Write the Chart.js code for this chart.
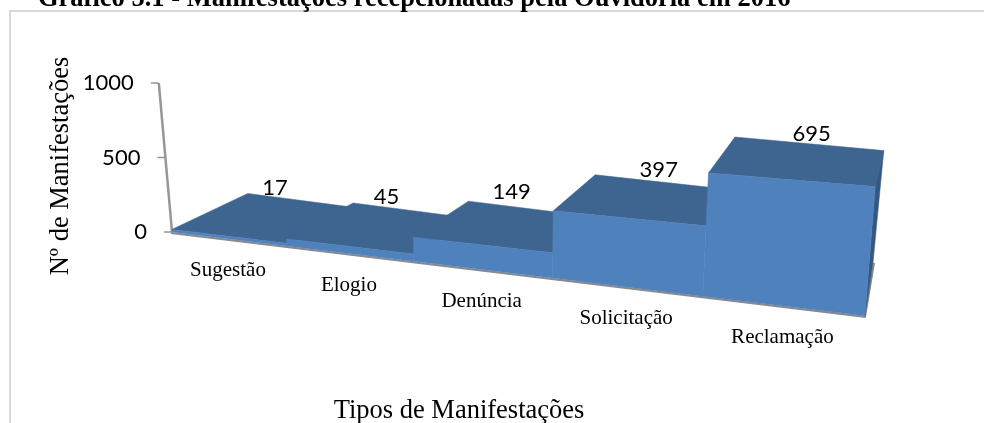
<!DOCTYPE html>
<html><head><meta charset="utf-8">
<style>
html,body{margin:0;padding:0;background:#fff;overflow:hidden}
#frame{position:absolute;left:9px;top:10px;width:975px;height:413px;border-left:2px solid #d9d9d9;border-top:2px solid #d9d9d9;box-sizing:border-box}
#wrap{position:absolute;left:0;top:0;width:984px;height:423px}
</style>
<script src="https://cdn.jsdelivr.net/npm/chart.js@4"></script>
</head><body>
<div id="frame"></div>
<div id="wrap"><canvas id="c" width="984" height="423"></canvas></div>
<script>
const categories = ["Sugestão","Elogio","Denúncia","Solicitação","Reclamação"];
const values = [17,45,149,397,695];
const yTicks = [0,500,1000];
const chartTitle = "Gráfico 5.1 - Manifestações recepcionadas pela Ouvidoria em 2016";
const yTitle = "Nº de Manifestações";
const xTitle = "Tipos de Manifestações";

const SERIF = '"Liberation Serif","Times New Roman",serif';
const SANS = 'Lato,"Open Sans",sans-serif';
const FRONT = "#4f81bd", TOP = "#3e6490", SIDE = "#34587f", FLOOR = "#8a8a8a", AXIS = "#969696";

// Oblique view: turns a flat (scale pixel, height pixel, depth) position into the picture plane.
function projector(chart){
  const a = chart.chartArea, n = categories.length;
  const warp = px => { const u=(px-a.left)/a.width*n; return a.left + 109.1*u + 5.9*u*u; };
  return (px,h,d)=>{
    const bx = warp(px), t = bx-a.left;
    return {
      x: bx + h*(bx-500)*2.7e-4 + d*(76-t*0.08-t*t*2.5e-5),
      y: a.bottom + t*0.121 - h*(1+t*3.58e-4) - 36*d
    };
  };
}
function poly(ctx,pts,fill){
  ctx.beginPath();
  pts.forEach((p,i)=> i?ctx.lineTo(p.x,p.y):ctx.moveTo(p.x,p.y));
  ctx.closePath();
  ctx.fillStyle=fill; ctx.fill();
  ctx.strokeStyle=fill; ctx.lineWidth=0.5; ctx.stroke();
}
const labelNudge = [[-10,-7],[-11,-9],[-9,-12],[3,-7],[7,-5]];

const oblique = {
  id:"oblique",
  beforeDatasetDraw(chart,args){
    const ctx=chart.ctx, P=projector(chart), a=chart.chartArea, y=chart.scales.y, x=chart.scales.x;
    const els=chart.getDatasetMeta(args.index).data;
    ctx.save();
    // floor
    const f0=P(a.left,0,0), f1=P(a.right,0,0), fb={x:f1.x+8,y:f1.y-53};
    ctx.strokeStyle=FLOOR; ctx.lineWidth=2;
    ctx.beginPath(); ctx.moveTo(f0.x-1,f0.y+1); ctx.lineTo(f1.x,f1.y+1); ctx.lineTo(fb.x+1,fb.y); ctx.stroke();
    // value axis
    const ax0=P(a.left,0,0), ax1=P(a.left,a.bottom-y.getPixelForValue(yTicks[yTicks.length-1]),0);
    ctx.strokeStyle=AXIS; ctx.lineWidth=2.5;
    ctx.beginPath(); ctx.moveTo(ax0.x,ax0.y); ctx.lineTo(ax1.x,ax1.y); ctx.stroke();
    ctx.textBaseline="middle"; ctx.textAlign="right"; ctx.font="22px "+SANS;
    y.ticks.forEach(t=>{
      const p=P(a.left,a.bottom-y.getPixelForValue(t.value),0);
      ctx.strokeStyle=AXIS; ctx.lineWidth=1.5;
      ctx.beginPath(); ctx.moveTo(p.x-8,p.y); ctx.lineTo(p.x,p.y); ctx.stroke();
      ctx.fillStyle="#000"; ctx.fillText(String(t.value),p.x-25,p.y);
    });
    // bars, left to right
    els.forEach((el,i)=>{
      const l=el.x-el.width/2, r=el.x+el.width/2, h=el.base-el.y;
      poly(ctx,[P(l,h,0),P(l,h,1),P(r,h,1),P(r,h,0)],TOP);
      if(i===els.length-1) poly(ctx,[P(r,h,0),P(r,h,1),fb,P(r,0,0)],SIDE);
      poly(ctx,[P(l,0,0),P(l,h,0),P(r,h,0),P(r,0,0)],FRONT);
    });
    // value labels and category labels
    ctx.textAlign="center"; ctx.fillStyle="#000";
    els.forEach((el,i)=>{
      const h=el.base-el.y, p=P(el.x,h,0.8);
      ctx.font="22px "+SANS;
      ctx.fillText(String(values[i]),p.x+labelNudge[i][0],p.y-12+labelNudge[i][1]);
      const q=P(el.x,0,0);
      ctx.font="21px "+SERIF;
      ctx.fillText(x.getLabelForValue(i),q.x,q.y+32);
    });
    // titles
    ctx.font="bold 26.5px "+SERIF; ctx.textAlign="left"; ctx.textBaseline="alphabetic";
    ctx.fillText(chartTitle,38,6);
    ctx.font="26.5px "+SERIF; ctx.textAlign="center";
    ctx.fillText(xTitle,459,418);
    ctx.translate(68,166); ctx.rotate(-Math.PI/2);
    ctx.fillText(yTitle,0,0);
    ctx.restore();
    return false;
  }
};

new Chart(document.getElementById("c"),{
  type:"bar",
  data:{labels:categories,datasets:[{label:xTitle,data:values,backgroundColor:FRONT,barPercentage:1,categoryPercentage:1}]},
  options:{
    responsive:false,animation:false,
    layout:{padding:{left:172,right:118,top:83,bottom:191}},
    plugins:{legend:{display:false},title:{display:false},tooltip:{enabled:false}},
    scales:{
      x:{display:false,type:"category"},
      y:{display:false,min:0,max:1000,afterBuildTicks(s){s.ticks=yTicks.map(v=>({value:v}));}}
    }
  },
  plugins:[oblique]
});
</script>
</body></html>
